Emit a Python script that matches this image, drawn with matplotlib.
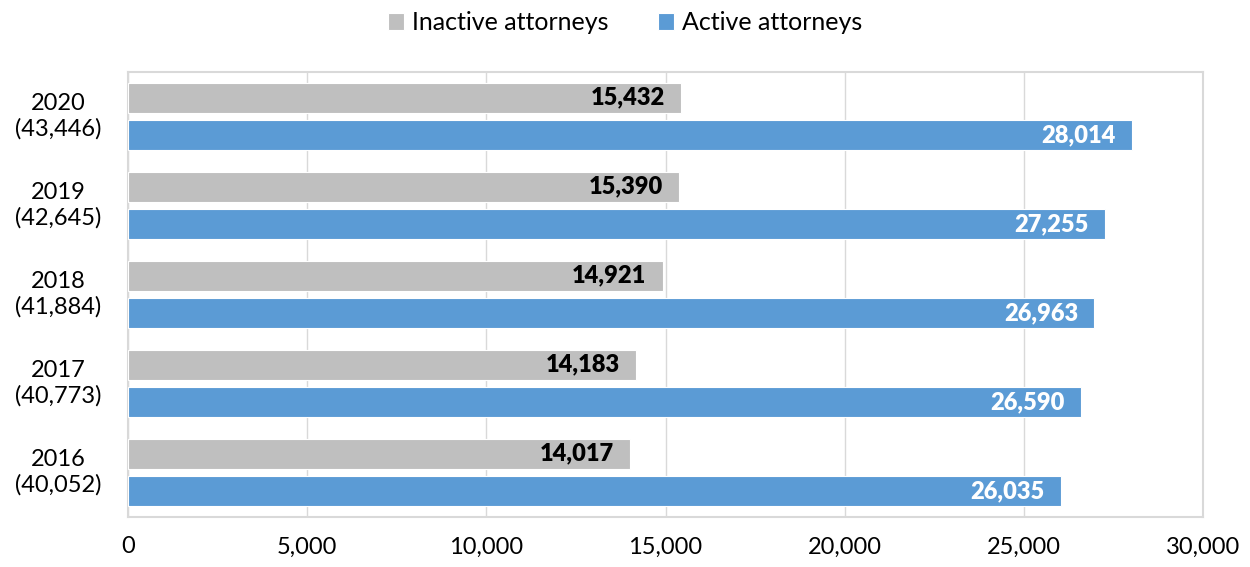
import matplotlib
matplotlib.use("Agg")
import matplotlib.pyplot as plt
import numpy as np

plt.rcParams["font.family"] = ["Lato", "DejaVu Sans"]

years = ["2016", "2017", "2018", "2019", "2020"]
totals = [40052, 40773, 41884, 42645, 43446]
inactive = [14017, 14183, 14921, 15390, 15432]
active = [26035, 26590, 26963, 27255, 28014]
xticks = [0, 5000, 10000, 15000, 20000, 25000, 30000]

C_GRAY, C_BLUE, C_GRID = "#bfbfbf", "#5b9bd5", "#d9d9d9"

fig = plt.figure(figsize=(12.5, 5.67), dpi=100)
ax = fig.add_axes([0.1024, 0.0882, 0.86, 0.785])

y = np.arange(len(years))
h = 0.335
off = 0.21
bi = ax.barh(y + off, inactive, height=h, color=C_GRAY, edgecolor="white",
             linewidth=0.8, label="Inactive attorneys", zorder=3)
ba = ax.barh(y - off, active, height=h, color=C_BLUE, edgecolor="white",
             linewidth=0.8, label="Active attorneys", zorder=3)

for rect, v in zip(bi, inactive):
    ax.text(v - 450, rect.get_y() + rect.get_height() / 2, f"{v:,}",
            ha="right", va="center", fontsize=17, fontweight="heavy",
            color="black", zorder=4)
for rect, v in zip(ba, active):
    ax.text(v - 450, rect.get_y() + rect.get_height() / 2, f"{v:,}",
            ha="right", va="center", fontsize=17, fontweight="heavy",
            color="white", zorder=4)

ax.set_xlim(0, 30000)
ax.set_ylim(-0.5, len(years) - 0.5)
ax.set_xticks(xticks)
ax.set_xticklabels([f"{t:,}" for t in xticks], fontsize=17)
ax.set_yticks(y + 0.05)
ax.set_yticklabels([f"{yr}\n({t:,})" for yr, t in zip(years, totals)],
                   fontsize=17, linespacing=1.25, ha="center")
ax.tick_params(length=0)
ax.tick_params(axis="x", pad=14)
ax.tick_params(axis="y", pad=50)
ax.xaxis.grid(True, color=C_GRID, linewidth=1, zorder=0)
ax.set_axisbelow(True)
for s in ax.spines.values():
    s.set_color(C_GRID)
    s.set_linewidth(1.5)

fig.legend(handles=[bi, ba], loc="upper center", bbox_to_anchor=(0.5, 1.02),
           ncol=2, frameon=False, fontsize=18, handlelength=0.65,
           handleheight=0.65, handletextpad=0.3, columnspacing=2.0)

fig.savefig("out.png", dpi=100)
